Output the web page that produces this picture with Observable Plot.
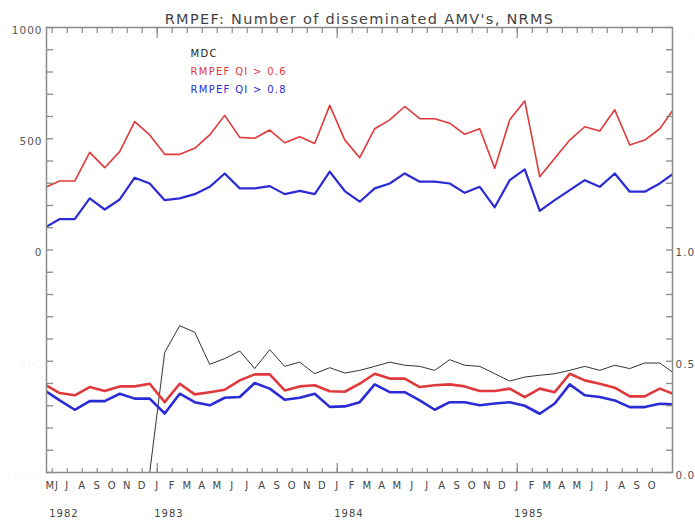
<!DOCTYPE html>
<html><head><meta charset="utf-8">
<script src="https://cdn.jsdelivr.net/npm/d3@7"></script>
<script src="https://cdn.jsdelivr.net/npm/@observablehq/plot@0.6"></script>
<style>
html,body{margin:0;padding:0;background:#fff;}
#chart svg{display:block;}
</style></head><body><div id="chart"></div>
<script>
const title = "RMPEF: Number of disseminated AMV's, NRMS";

// month tick labels (first label as printed in the reference), Jun 1982 .. Oct 1985
const monthLabels = ["MJ","J","A","S","O","N","D",
  "J","F","M","A","M","J","J","A","S","O","N","D",
  "J","F","M","A","M","J","J","A","S","O","N","D",
  "J","F","M","A","M","J","J","A","S","O"];
const yearLabels = ["1982","1983","1984","1985"];
const yearFirstLabel = [0, 7, 19, 31];   // index in monthLabels where each year starts
const januaryLabels = [7, 19, 31];

// left axis (number of AMVs) and right axis (NRMS)
const leftTickValues = [0, 500, 1000];
const leftFaintValues = [-1000, -500];
const rightTickValues = [0.0, 0.5, 1.0];
const rightFaintValues = [2.0];

// monthly series, May 1982 .. Nov 1985 (mid-month points)
const amvQI06 = [280,310,310,439,370,442,577,517,430,430,457,517,605,506,502,539,482,509,479,650,
  495,415,545,585,645,590,590,570,520,545,367,585,670,329,412,494,554,535,630,472,494,545,640];
const amvQI08 = [100,139,139,232,182,227,325,299,224,232,251,284,344,277,277,287,251,266,251,352,
  265,217,277,299,344,307,307,299,257,284,192,314,362,176,224,269,314,284,344,262,262,299,348];
const nrmsMDC = [null,null,null,null,null,null,null,0.0,0.54,0.66,0.63,0.486,0.512,0.546,0.467,0.552,0.477,0.496,0.444,0.471,
  0.447,0.459,0.477,0.496,0.482,0.477,0.459,0.507,0.482,0.477,0.444,0.411,0.429,0.437,0.444,0.459,0.477,0.459,0.482,0.467,0.492,0.492,0.444];
const nrmsQI06 = [0.396,0.357,0.347,0.384,0.366,0.387,0.387,0.399,0.316,0.399,0.351,0.361,0.372,0.414,0.441,0.441,0.369,0.387,0.392,0.365,
  0.363,0.399,0.444,0.422,0.422,0.384,0.392,0.396,0.387,0.366,0.366,0.377,0.339,0.377,0.361,0.444,0.414,0.399,0.381,0.342,0.342,0.377,0.351];
const nrmsQI08 = [0.369,0.324,0.282,0.321,0.321,0.354,0.332,0.332,0.265,0.354,0.316,0.302,0.336,0.339,0.402,0.377,0.327,0.336,0.354,0.295,
  0.297,0.316,0.396,0.361,0.361,0.324,0.282,0.316,0.316,0.302,0.310,0.316,0.300,0.264,0.310,0.396,0.347,0.339,0.324,0.294,0.294,0.309,0.306];

const legendItems = ["MDC", "RMPEF QI > 0.6", "RMPEF QI > 0.8"];
const legendColors = ["#222", "#e0393b", "#2b2bd6"];

const RED = "#e0393b", BLUE = "#2b2bd6", AXIS = "#8a8a8a", LABEL = "#555", FAINT = "#f3f3f3";
const idx = (d, i) => i;                      // point index = month since May 1982
const tickPos = (i) => i + 0.5;               // month start between two mid-month points
const nrmsToLeft = v => v == null ? null : v * 1000 - 1000;  // right axis 0..2 shares frame with left -1000..1000
const minorY = d3.range(-1000, 1001, 100);
const monthTicks = monthLabels.map((_, i) => tickPos(i));
const janTicks = januaryLabels.map(tickPos);

const chart = Plot.plot({
  width: 695, height: 525,
  marginLeft: 46, marginRight: 23, marginTop: 27, marginBottom: 53,
  style: {fontFamily: "DejaVu Sans, sans-serif", fontSize: "10px", background: "#fff", color: LABEL},
  x: {domain: [0.12, 41.85], axis: null},
  y: {domain: [-1000, 1000], axis: null},
  marks: [
    // data
    Plot.line(amvQI06, {x: idx, y: d => d, stroke: RED, strokeWidth: 1.6, clip: true}),
    Plot.line(amvQI08, {x: idx, y: d => d, stroke: BLUE, strokeWidth: 2.2, clip: true}),
    Plot.line(nrmsMDC, {x: idx, y: nrmsToLeft, stroke: "#333", strokeWidth: 1, clip: true}),
    Plot.line(nrmsQI06, {x: idx, y: nrmsToLeft, stroke: RED, strokeWidth: 2.6, clip: true}),
    Plot.line(nrmsQI08, {x: idx, y: nrmsToLeft, stroke: BLUE, strokeWidth: 2.6, clip: true}),

    // inward ticks
    Plot.axisY(minorY, {anchor: "left", tickSize: -7, tickFormat: () => "", stroke: AXIS, strokeWidth: 1.3, label: null}),
    Plot.axisY(minorY, {anchor: "right", tickSize: -7, tickFormat: () => "", stroke: AXIS, strokeWidth: 1.3, label: null}),
    Plot.axisX(monthTicks, {anchor: "bottom", tickSize: -4, tickFormat: () => "", stroke: AXIS, strokeWidth: 1.2, label: null}),
    Plot.axisX(janTicks, {anchor: "bottom", tickSize: -9, tickFormat: () => "", stroke: AXIS, strokeWidth: 1.2, label: null}),
    Plot.axisX(monthTicks, {anchor: "top", tickSize: -5, tickFormat: () => "", stroke: AXIS, strokeWidth: 1.2, label: null}),
    Plot.axisX(janTicks, {anchor: "top", tickSize: -10, tickFormat: () => "", stroke: AXIS, strokeWidth: 1.2, label: null}),

    // tick labels
    Plot.text(leftTickValues, {y: d => d, frameAnchor: "left", textAnchor: "end", dx: -4, dy: 3, text: d => String(d), fill: LABEL, fontSize: 10.5}),
    Plot.text(leftFaintValues, {y: d => d, frameAnchor: "left", textAnchor: "end", dx: -4, dy: 3, text: d => String(d), fill: FAINT, fillOpacity: 0.6, fontSize: 10.5}),
    Plot.text(rightTickValues, {y: nrmsToLeft, frameAnchor: "right", textAnchor: "start", dx: 3, dy: 3, text: d => d.toFixed(1), fill: LABEL, fontSize: 10.5}),
    Plot.text(rightFaintValues, {y: nrmsToLeft, frameAnchor: "right", textAnchor: "start", dx: 3, dy: 10, text: d => d.toFixed(1), fill: FAINT, fillOpacity: 0.6, fontSize: 10.5}),
    Plot.text(monthLabels, {x: (d, i) => tickPos(i), frameAnchor: "bottom", dy: 16, fill: "#444", fontSize: 10}),
    Plot.text(yearLabels, {x: (d, i) => tickPos(yearFirstLabel[i]), frameAnchor: "bottom", dy: 44, textAnchor: "start", dx: -3, fill: "#444", fontSize: 10}),

    // frame
    Plot.frame({stroke: AXIS, strokeWidth: 1.5}),

    // title and legend
    Plot.text([title], {frameAnchor: "top", dy: -14, fontSize: 14.5, fill: "#444"}),
    ...legendItems.map((t, i) => Plot.text([t], {frameAnchor: "top-left", dx: 144, dy: 22 + 18 * i, textAnchor: "start", fill: legendColors[i], fontSize: 10}))
  ]
});

d3.select(chart).selectAll("text").attr("letter-spacing", "1");
d3.select(chart).selectAll("g[aria-label='text'] text").filter(function() { return this.textContent.startsWith("RMPEF") || this.textContent === "MDC"; }).attr("letter-spacing", "1.3");
document.getElementById("chart").appendChild(chart);
</script>
</body></html>
